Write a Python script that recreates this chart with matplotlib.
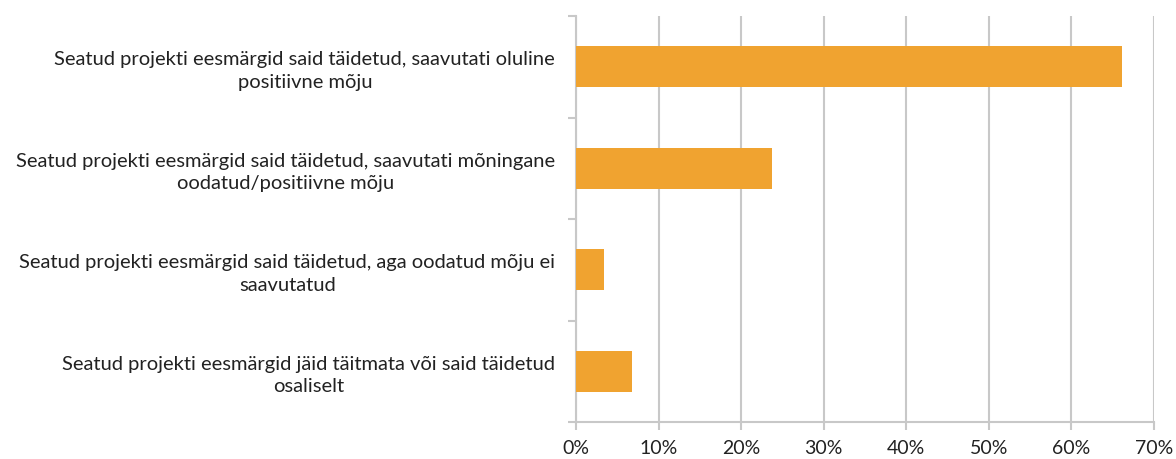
import matplotlib
matplotlib.use("Agg")
import matplotlib.pyplot as plt
import numpy as np
from matplotlib.ticker import FixedLocator, FuncFormatter

categories = [
    "Seatud projekti eesmärgid said täidetud, saavutati oluline\npositiivne mõju",
    "Seatud projekti eesmärgid said täidetud, saavutati mõningane\noodatud/positiivne mõju",
    "Seatud projekti eesmärgid said täidetud, aga oodatud mõju ei\nsaavutatud",
    "Seatud projekti eesmärgid jäid täitmata või said täidetud\nosaliselt",
]
values = [66.1, 23.7, 3.4, 6.8]
xticks = [0, 10, 20, 30, 40, 50, 60, 70]

plt.rcParams['font.family'] = ['Lato', 'DejaVu Sans']

fig = plt.figure(figsize=(11.76, 4.59), dpi=100)
ax = fig.add_axes([576/1176, 1-422/459, (1154-576)/1176, (422-16)/459])

pos = np.arange(len(categories))
ax.barh(pos, values, height=0.4, color='#F0A330', zorder=3)
ax.set_xlim(0, 70)
ax.set_ylim(len(categories)-0.5, -0.5)

grid_c = '#C8C8C8'
ax.set_xticks(xticks)
ax.xaxis.set_major_formatter(FuncFormatter(lambda v, p: f"{int(v)}%"))
ax.grid(axis='x', color=grid_c, linewidth=1.5, zorder=0)
ax.tick_params(axis='x', length=6, width=1.5, color=grid_c, pad=7, labelsize=14, labelcolor='#222222')

ax.yaxis.set_major_locator(FixedLocator(np.arange(-0.5, len(categories), 1)))
ax.yaxis.set_major_formatter(FuncFormatter(lambda v, p: ""))
ax.yaxis.set_minor_locator(FixedLocator(pos))
ax.set_yticklabels(categories, minor=True)
ax.tick_params(axis='y', which='major', length=6, width=1.5, color=grid_c)
ax.tick_params(axis='y', which='minor', length=0, pad=15, labelsize=14.5, labelcolor='#222222')
for lab in ax.get_yticklabels(minor=True):
    lab.set_multialignment('center')
    lab.set_linespacing(1.4)

for s in ['top', 'right']:
    ax.spines[s].set_visible(False)
for s in ['left', 'bottom']:
    ax.spines[s].set_color(grid_c)
    ax.spines[s].set_linewidth(1.5)

fig.savefig("out.png", dpi=100)
